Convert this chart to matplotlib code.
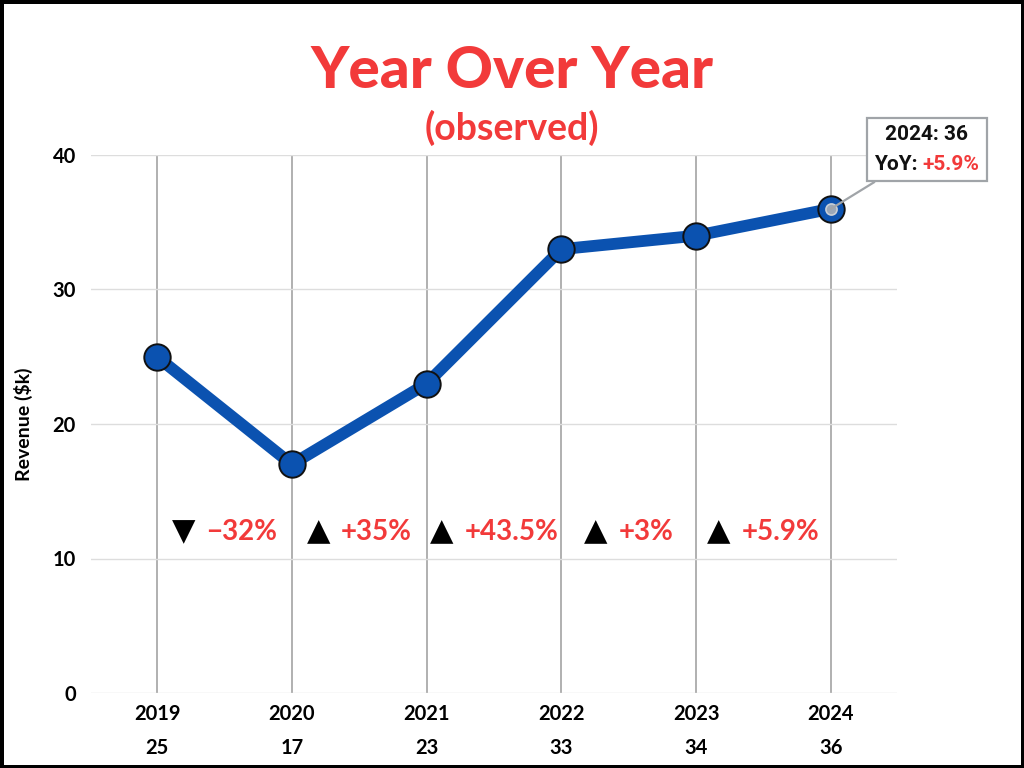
import matplotlib
matplotlib.use("Agg")
import matplotlib.pyplot as plt
from matplotlib.offsetbox import TextArea, HPacker, VPacker, AnnotationBbox

years = ["2019", "2020", "2021", "2022", "2023", "2024"]
revenue = [25, 17, 23, 33, 34, 36]
yoy_labels = ["−32%", "+35%", "+43.5%", "+3%", "+5.9%"]
yoy_up = [False, True, True, True, True]
yoy_y = 12.0

RED = "#f23a3a"
BLUE = "#0b52b0"
FONT = ["Lato", "DejaVu Sans"]

fig = plt.figure(figsize=(10.24, 7.68), dpi=100)
fig.patch.set_facecolor("white")
fig.patch.set_edgecolor("black")
fig.patch.set_linewidth(5)

ax = fig.add_axes([91/1024, 1 - 693/768, (897-91)/1024, (693-155)/768])
x = list(range(len(years)))

ax.set_xlim(-0.49, 5.49)
ax.set_ylim(0, 40)
ax.set_yticks([0, 10, 20, 30, 40])
ax.set_xticks(x)
ax.set_xticklabels([f"{y}\n{v}" for y, v in zip(years, revenue)],
                   fontsize=14.5, fontweight="bold", family=FONT, linespacing=1.85)
for lab in ax.get_yticklabels():
    lab.set_fontsize(14.5); lab.set_fontweight("bold"); lab.set_family(FONT)
ax.tick_params(axis="both", length=0)
ax.tick_params(axis="x", pad=8)
ax.tick_params(axis="y", pad=11)
for s in ax.spines.values():
    s.set_visible(False)
ax.grid(axis="y", color="#dddddd", linewidth=1)
ax.grid(axis="x", color="#aaaaaa", linewidth=1.3)
ax.set_axisbelow(True)
ax.set_ylabel("Revenue ($k)", fontsize=14, fontweight="bold", family=FONT, labelpad=14)

ax.plot(x, revenue, color=BLUE, linewidth=8.5, solid_capstyle="round", zorder=3)
ax.plot(x, revenue, linestyle="none", marker="o", markersize=19,
        markerfacecolor=BLUE, markeredgecolor="#111111", markeredgewidth=1.4, zorder=4)
# hover highlight on last point
ax.plot([x[-1]], [revenue[-1]], linestyle="none", marker="o", markersize=8,
        markerfacecolor="#9aa7b8", markeredgecolor="#c8ced6", markeredgewidth=1.2, zorder=5)

# YoY annotations between points
for i, (lab, up) in enumerate(zip(yoy_labels, yoy_up)):
    tri = TextArea("▲" if up else "▼",
                   textprops=dict(color="black", fontsize=22, family=["DejaVu Sans"]))
    txt = TextArea(lab, textprops=dict(color=RED, fontsize=20, fontweight="bold", family=FONT))
    box = HPacker(children=[tri, txt], align="center", pad=0, sep=8)
    ab = AnnotationBbox(box, (i + 0.5, yoy_y), frameon=False, box_alignment=(0.5, 0.5),
                        zorder=6)
    ax.add_artist(ab)

# Tooltip
TF = ["Roboto", "DejaVu Sans"]
l1 = TextArea("2024: 36", textprops=dict(color="#111111", fontsize=15, fontweight="bold", family=TF))
l2a = TextArea("YoY: ", textprops=dict(color="#111111", fontsize=15, fontweight="bold", family=TF))
l2b = TextArea("+5.9%", textprops=dict(color=RED, fontsize=15, fontweight="bold", family=TF))
l2 = HPacker(children=[l2a, l2b], align="baseline", pad=0, sep=0)
tip = VPacker(children=[l1, l2], align="center", pad=0, sep=8)
tip_ab = AnnotationBbox(tip, (x[-1], revenue[-1]), xybox=(69, 42.5), xycoords="data",
                        boxcoords="offset points", box_alignment=(0.5, 0.5),
                        bboxprops=dict(boxstyle="square,pad=0.5", facecolor="white",
                                       edgecolor="#a0a4a8", linewidth=1.6),
                        arrowprops=dict(arrowstyle="-", color="#a0a4a8", linewidth=1.6,
                                        shrinkA=0, shrinkB=0),
                        zorder=7, annotation_clip=False)
ax.add_artist(tip_ab)

fig.text(0.5, 1 - 72/768, "Year Over Year", ha="center", va="center", color=RED,
         fontsize=42, fontweight="black", family=FONT)
fig.text(0.5, 1 - 128/768, "(observed)", ha="center", va="center", color=RED,
         fontsize=27, fontweight="bold", family=FONT)

fig.savefig("out.png", dpi=100, facecolor="white", edgecolor="black")
